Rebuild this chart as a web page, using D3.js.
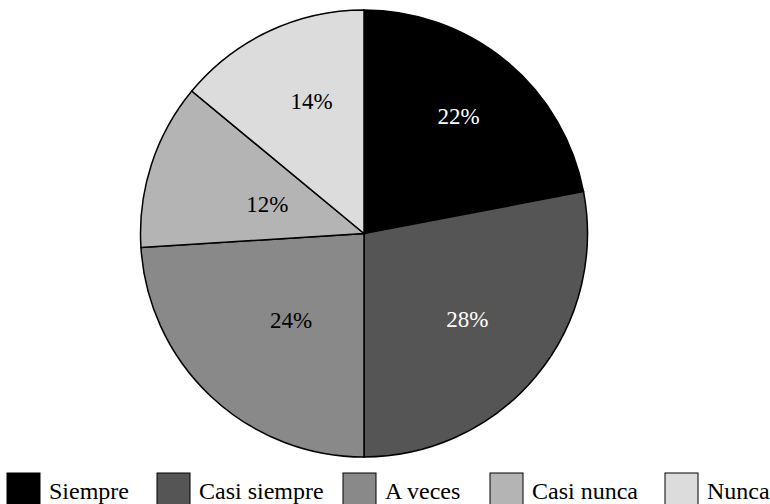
<!DOCTYPE html>
<html><head><meta charset="utf-8">
<script src="https://cdn.jsdelivr.net/npm/d3@7/dist/d3.min.js"></script>
</head><body style="margin:0;background:#fff">
<svg id="c" width="770" height="504" style="display:block"></svg>
<script>
const categories = ["Siempre","Casi siempre","A veces","Casi nunca","Nunca"];
const values = [22,28,24,12,14];
const labels = ["22%","28%","24%","12%","14%"];

// styling / layout constants
const colors = ["#000000","#555555","#898989","#b4b4b4","#dcdcdc"];
const labelColors = ["#ffffff","#ffffff","#000000","#000000","#000000"];
const labelRadius = [151,134,113,101,143];
const labelAngleShift = [-0.8,0,-3,-1,3.7];
const legendX = [7,157,343,490,665];
const FONT = "'Liberation Serif', 'Times New Roman', serif";

const svg = d3.select("#c");
const cx = 364, cy = 233.5, R = 223.5;
const pie = d3.pie().sort(null).value(d=>d)(values);
const arc = d3.arc().innerRadius(0).outerRadius(R);
const g = svg.append("g").attr("transform",`translate(${cx},${cy})`);
g.selectAll("path").data(pie).enter().append("path")
 .attr("d",arc).attr("fill",(d,i)=>colors[i]).attr("stroke","#000").attr("stroke-width",1.5);
pie.forEach((d,i)=>{
  const a=(d.startAngle+d.endAngle)/2 + labelAngleShift[i]*Math.PI/180;
  const r=labelRadius[i];
  g.append("text")
   .attr("x",r*Math.sin(a)).attr("y",-r*Math.cos(a))
   .attr("text-anchor","middle").attr("dy","0.35em")
   .style("font-family",FONT).style("font-size","23px")
   .attr("fill",labelColors[i]).text(labels[i]);
});

categories.forEach((c,i)=>{
  svg.append("rect").attr("x",legendX[i]).attr("y",473).attr("width",33).attr("height",33)
   .attr("fill",colors[i]).attr("stroke","#000").attr("stroke-width",1);
  svg.append("text").attr("x",legendX[i]+42).attr("y",499)
   .style("font-family",FONT).style("font-size","24px")
   .attr("fill","#000").text(c);
});
</script>
</body></html>
